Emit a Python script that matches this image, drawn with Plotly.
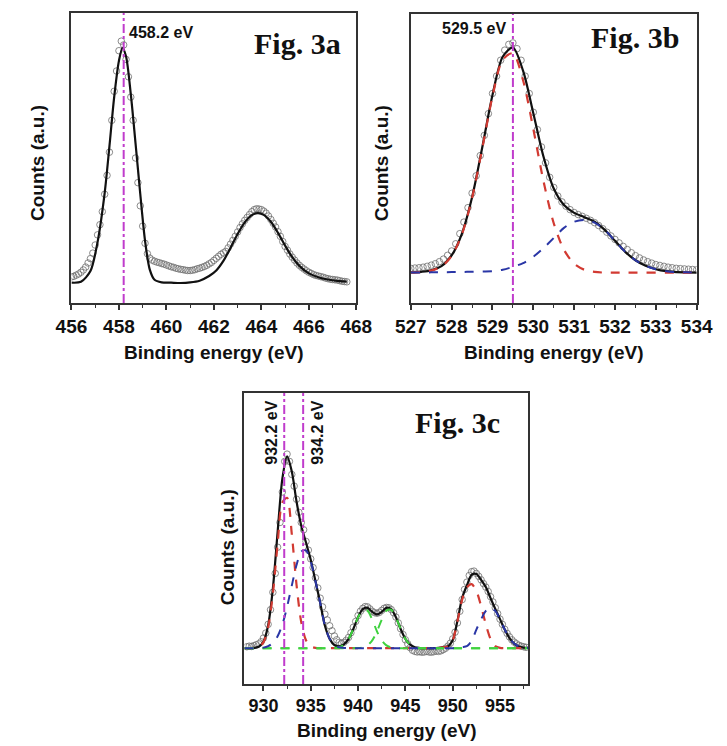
import numpy as np
import plotly.graph_objects as go

# ---------------- Fig. 3a : Ti 2p ----------------
ti_start, ti_step = 456.0, 0.1
ti_counts = [
    9.0, 9.2, 9.6, 10.0, 10.6, 11.4, 12.4, 13.8, 15.3, 17.2,
    20.0, 23.5, 27.0, 31.5, 37.5, 44.0, 52.0, 63.0, 73.0, 80.0,
    87.0, 90.3, 89.0, 84.0, 78.0, 71.0, 63.0, 50.0, 41.5, 33.5,
    26.5, 20.6, 17.0, 15.5, 14.8, 14.4, 14.1, 13.9, 13.6, 13.4,
    13.1, 12.8, 12.5, 12.3, 12.0, 11.8, 11.6, 11.5, 11.3, 11.2,
    11.2, 11.3, 11.5, 11.8, 12.0, 12.3, 12.6, 13.0, 13.5, 14.0,
    14.7, 15.4, 16.1, 16.8, 17.3, 17.8, 19.0, 20.3, 21.6, 23.0,
    24.5, 26.0, 27.3, 28.5, 29.5, 30.5, 31.5, 32.2, 32.5, 32.4,
    32.2, 31.7, 31.0, 30.0, 28.8, 27.5, 26.2, 24.6, 23.0, 21.2,
    19.5, 18.2, 16.9, 15.8, 14.8, 13.8, 13.0, 12.3, 11.7, 11.1,
    10.6, 10.2, 9.8, 9.5, 9.3, 9.1, 8.9, 8.6, 8.4, 8.2,
    8.1, 8.0, 7.9, 7.7, 7.5, 7.4, 7.3,
]
ti_fit_x = [456.0, 456.4, 456.8, 457.1, 457.4, 457.6, 457.8, 458.0, 458.15, 458.3,
            458.5, 458.7, 458.9, 459.1, 459.3, 459.5, 459.8, 460.2, 460.6, 461.0,
            461.4, 461.8, 462.1, 462.4, 462.7, 463.0, 463.3, 463.6, 463.85, 464.1,
            464.4, 464.7, 465.0, 465.3, 465.6, 466.0, 466.4, 466.8, 467.2, 467.6]
ti_fit_y = [7.0, 7.3, 11.0, 21.0, 38.0, 54.0, 71.0, 83.5, 88.0, 85.0,
            72.0, 55.0, 37.5, 21.5, 11.5, 8.0, 7.1, 7.0, 6.9, 7.1,
            7.7, 9.3, 11.2, 14.5, 19.0, 23.8, 27.8, 30.3, 31.0, 30.4,
            28.0, 24.2, 19.8, 15.8, 12.8, 10.2, 8.9, 8.1, 7.6, 7.4]
ti_peak = 458.2

# ---------------- Fig. 3b : O 1s ----------------
o_start, o_step = 527.0, 0.1
o_counts = [
    12.0, 12.1, 12.2, 12.4, 12.7, 13.1, 13.6, 14.3, 15.2, 16.5,
    18.0, 20.5, 24.0, 28.0, 33.0, 38.0, 44.0, 51.0, 58.0, 65.5,
    72.5, 78.5, 84.0, 87.5, 89.5, 90.0, 88.0, 84.0, 78.5, 72.5,
    66.0, 60.0, 54.0, 48.5, 43.5, 40.0, 37.0, 35.0, 33.5, 32.3,
    31.3, 30.6, 30.0, 29.3, 28.6, 27.8, 26.8, 25.7, 24.5, 23.2,
    22.0, 20.8, 19.6, 18.5, 17.4, 16.4, 15.6, 14.9, 14.3, 13.8,
    13.3, 13.0, 12.7, 12.4, 12.2, 12.0, 11.9, 11.8, 11.7, 11.6,
    11.5,
]
o_grid_start, o_grid_step = 527.0, 0.25
o_fit = [10.55, 10.8, 11.3, 12.75, 16.5, 23.95, 36.6, 53.9, 72.0, 85.2,
         88.4, 80.3, 65.7, 50.6, 39.6, 33.9, 31.2, 29.7, 28.1, 25.3,
         21.5, 17.7, 14.8, 12.9, 11.7, 11.0, 10.7, 10.6, 10.5]
o_lattice = [10.5, 10.7, 11.2, 12.6, 16.3, 23.7, 36.3, 53.5, 71.5, 84.2,
             86.4, 77.0, 60.2, 42.1, 27.6, 18.4, 13.6, 11.5, 10.8, 10.5,
             10.5, 10.5, 10.5, 10.5, 10.5, 10.5, 10.5, 10.5, 10.5]
o_surface = [10.55, 10.6, 10.6, 10.65, 10.7, 10.75, 10.8, 10.9, 11.0, 11.5,
             12.5, 13.8, 16.0, 19.0, 22.5, 26.0, 28.1, 28.7, 27.8, 25.3,
             21.5, 17.7, 14.8, 12.9, 11.7, 11.0, 10.7, 10.6, 10.5]
o_peak = 529.5

# ---------------- Fig. 3c : Cu 2p ----------------
cu_start, cu_step = 928.25, 0.25
cu_counts = [
    12.8, 13.0, 12.9, 13.2, 13.5, 13.8, 14.5, 15.8, 17.5, 20.5,
    25.5, 31.5, 38.0, 47.0, 55.5, 66.0, 76.5, 79.0, 76.5, 72.0,
    68.0, 63.5, 59.0, 55.5, 53.0, 49.0, 46.0, 43.0, 40.0, 36.5,
    33.0, 29.5, 26.5, 24.0, 22.0, 20.0, 18.3, 16.5, 15.2, 14.3,
    14.0, 14.3, 15.0, 16.0, 17.6, 19.5, 21.5, 23.5, 25.0, 26.0,
    26.6, 26.5, 25.8, 25.0, 24.5, 24.3, 24.6, 25.3, 26.0, 26.3,
    26.2, 25.6, 24.5, 23.0, 21.0, 19.0, 17.0, 15.2, 13.8, 12.5,
    11.6, 11.2, 11.0, 11.1, 10.9, 11.0, 11.2, 11.0, 10.9, 11.1,
    11.3, 11.2, 11.4, 11.8, 12.3, 13.0, 14.0, 15.5, 17.8, 21.0,
    25.0, 29.0, 32.5, 35.0, 37.3, 38.6, 38.8, 38.0, 37.0, 35.8,
    34.5, 33.3, 31.8, 30.0, 28.2, 26.2, 24.2, 22.3, 20.5, 18.8,
    17.4, 16.2, 15.2, 14.4, 13.8, 13.3, 13.0, 12.8, 12.6,
]
cu_grid_start, cu_grid_step = 928.0, 0.5
cu_fit = [12.3, 12.3, 12.4, 12.8, 14.5, 20.2, 32.8, 52.1, 70.5, 78.2,
          73.0, 62.7, 54.4, 48.6, 42.7, 35.4, 27.9, 20.0, 15.5, 13.4,
          12.95, 13.6, 15.5, 18.9, 22.96, 25.77, 26.16, 24.8, 23.9, 24.8,
          26.16, 25.77, 22.96, 18.9, 15.5, 13.5, 12.65, 12.38, 12.3, 12.3,
          12.3, 12.4, 12.6, 12.9, 15.0, 21.7, 29.6, 33.9, 37.5, 37.8,
          35.8, 33.3, 29.5, 25.8, 22.3, 18.7, 15.8, 13.9, 12.9, 12.5,
          12.4]
cu_red = ([12.3, 12.3, 12.4, 12.7, 14.3, 19.5, 31.0, 48.0, 62.4, 64.0,
           51.5, 34.1, 21.2, 15.0, 12.9, 12.4]
          + [12.3] * 25
          + [12.4, 12.6, 12.9, 15.0, 21.5, 29.0, 33.2, 34.3, 32.0, 26.8,
             20.5, 15.5, 13.0, 12.4]
          + [12.3] * 6)
cu_blue = ([12.3, 12.3, 12.3, 12.4, 12.5, 13.0, 14.1, 16.4, 20.4, 26.5,
            33.8, 40.9, 45.5, 45.9, 42.1, 35.3, 27.9, 20.0, 15.5, 13.3,
            12.6, 12.4]
           + [12.3] * 23
           + [12.5, 12.7, 13.0, 14.8, 18.7, 22.2, 25.1, 26.3, 25.1, 22.2,
              18.7, 15.8, 13.9, 12.9, 12.5, 12.4])
cu_sat1 = ([12.3] * 19
           + [12.38, 12.65, 13.5, 15.5, 18.9, 22.9, 25.5, 25.2, 22.1, 18.1,
              15.0, 13.26, 12.57, 12.36]
           + [12.3] * 28)
cu_sat2 = ([12.3] * 24
           + [12.36, 12.57, 13.26, 15.0, 18.1, 22.1, 25.2, 25.5, 22.9, 18.9,
              15.5, 13.5, 12.65, 12.38]
           + [12.3] * 23)
cu_peaks = [932.2, 934.2]


def grid(start, step, values):
    return np.round(start + step * np.arange(len(values)), 3)


W, H = 727, 746


def px(x):
    return x / W


def py(y):
    return 1 - y / H


BLACK = "#111111"
AXIS = "#333333"
PT = "#6e6e6e"
RED = "#d23a32"
BLUE = "#2a36a6"
GREEN = "#3fd23f"
MAG = "#c03ccc"
SANS = "Liberation Sans, Arial, sans-serif"
SERIF = "Liberation Serif, Times New Roman, serif"

fig = go.Figure()


def points(x, y, xa, ya):
    fig.add_trace(go.Scatter(
        x=x, y=y, mode="markers", xaxis=xa, yaxis=ya, showlegend=False,
        marker=dict(symbol="circle-open", size=6.5, color=PT,
                    line=dict(width=0.8, color=PT))))


def curve(x, y, xa, ya, color, dash="solid", width=2.2):
    fig.add_trace(go.Scatter(
        x=x, y=y, mode="lines", xaxis=xa, yaxis=ya, showlegend=False,
        line=dict(color=color, width=width, dash=dash, shape="spline",
                  smoothing=0.8)))


def vline(x0, xa, ya):
    fig.add_trace(go.Scatter(
        x=[x0, x0], y=[0, 100], mode="lines", xaxis=xa, yaxis=ya,
        showlegend=False, line=dict(color=MAG, width=2, dash="dashdot")))


# Fig. 3a
points(grid(ti_start, ti_step, ti_counts), ti_counts, "x", "y")
curve(ti_fit_x, ti_fit_y, "x", "y", BLACK)
vline(ti_peak, "x", "y")

# Fig. 3b
o_x = grid(o_grid_start, o_grid_step, o_fit)
points(grid(o_start, o_step, o_counts), o_counts, "x2", "y2")
curve(o_x, o_fit, "x2", "y2", BLACK)
curve(o_x, o_lattice, "x2", "y2", RED, "dash", 2.2)
curve(o_x, o_surface, "x2", "y2", BLUE, "dash", 2.0)
vline(o_peak, "x2", "y2")

# Fig. 3c
c_x = grid(cu_grid_start, cu_grid_step, cu_fit)
points(grid(cu_start, cu_step, cu_counts), cu_counts, "x3", "y3")
curve(c_x, cu_fit, "x3", "y3", BLACK)
curve(c_x, cu_red, "x3", "y3", RED, "dash", 2.2)
curve(c_x, cu_sat1, "x3", "y3", GREEN, "dash", 2.0)
curve(c_x, cu_sat2, "x3", "y3", GREEN, "dash", 2.0)
curve(c_x, cu_blue, "x3", "y3", BLUE, "dash", 2.0)
for p in cu_peaks:
    vline(p, "x3", "y3")

tickfont = dict(family=SANS, size=19, color=BLACK, weight="bold")


def xaxis(domain, rng, tick0, dtick, minor, anchor, size=19):
    return dict(domain=domain, range=rng, anchor=anchor, dtick=dtick, tick0=tick0,
                showline=True, linecolor=AXIS, linewidth=1.5, mirror=True,
                ticks="outside", ticklen=5, tickwidth=1.5, tickcolor=AXIS,
                showgrid=False, zeroline=False,
                tickfont=dict(tickfont, size=size),
                minor=dict(dtick=minor, ticks="outside", ticklen=3,
                           tickwidth=1.2, tickcolor=AXIS, showgrid=False))


def yaxis(domain, anchor):
    return dict(domain=domain, range=[0, 100], anchor=anchor,
                showline=True, linecolor=AXIS, linewidth=1.5, mirror=True,
                ticks="", showticklabels=False, showgrid=False, zeroline=False)


fig.update_layout(
    width=W, height=H,
    margin=dict(l=0, r=0, t=0, b=0),
    paper_bgcolor="white", plot_bgcolor="white",
    xaxis=xaxis([px(58), px(356)], [456, 468], 456, 2, 1, "y"),
    yaxis=yaxis([py(303), py(13)], "x"),
    xaxis2=xaxis([px(413), px(712)], [527, 534], 527, 1, 0.5, "y2"),
    yaxis2=yaxis([py(303), py(14)], "x2"),
    xaxis3=xaxis([px(239), px(536)], [928, 958], 930, 5, 2.5, "y3", 18),
    yaxis3=yaxis([py(684), py(393)], "x3"),
)

ann = []
title_font = dict(family=SANS, size=19, color=BLACK, weight="bold")
for cx, cy in [(22, 163), (382, 163), (221, 547)]:
    ann.append(dict(text="Counts (a.u.)", x=px(cx), y=py(cy), xref="paper", yref="paper",
                    textangle=-90, showarrow=False, font=title_font,
                    xanchor="center", yanchor="middle"))
for cx, cy in [(207, 352), (562, 352), (388, 730)]:
    ann.append(dict(text="Binding energy (eV)", x=px(cx), y=py(cy), xref="paper",
                    yref="paper", showarrow=False, font=title_font,
                    xanchor="center", yanchor="middle"))
fig_font = dict(family=SERIF, size=30, color=BLACK, weight="bold")
for label, cx, cy in [("Fig. 3a", 294, 43), ("Fig. 3b", 647, 37), ("Fig. 3c", 462, 422)]:
    ann.append(dict(text=label, x=px(cx), y=py(cy), xref="paper", yref="paper",
                    showarrow=False, font=fig_font, xanchor="center", yanchor="middle"))

peak_font = dict(family=SANS, size=16, color=BLACK, weight="bold")
ann.append(dict(text=f"{ti_peak} eV", x=ti_peak, xref="x", y=py(32), yref="paper",
                xanchor="left", yanchor="middle", xshift=3, showarrow=False, font=peak_font))
ann.append(dict(text=f"{o_peak} eV", x=o_peak, xref="x2", y=py(28), yref="paper",
                xanchor="right", yanchor="middle", xshift=-5, showarrow=False, font=peak_font))
ann.append(dict(text=f"{cu_peaks[0]} eV", x=cu_peaks[0], xref="x3", y=py(433), yref="paper",
                xanchor="right", yanchor="middle", xshift=-3, textangle=-90,
                showarrow=False, font=peak_font))
ann.append(dict(text=f"{cu_peaks[1]} eV", x=cu_peaks[1], xref="x3", y=py(433), yref="paper",
                xanchor="left", yanchor="middle", xshift=3, textangle=-90,
                showarrow=False, font=peak_font))
fig.update_layout(annotations=ann)

fig.write_html("out.html")
